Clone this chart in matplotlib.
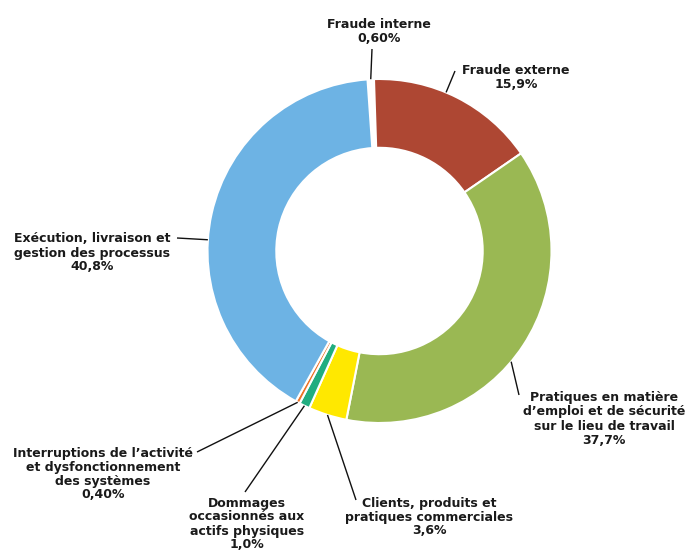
import numpy as np
import matplotlib
matplotlib.use("Agg")
import matplotlib.pyplot as plt

# data (clockwise from the top)
categories = [
    "Fraude interne",
    "Fraude externe",
    "Pratiques en matière\nd’emploi et de sécurité\nsur le lieu de travail",
    "Clients, produits et\npratiques commerciales",
    "Dommages\noccasionnés aux\nactifs physiques",
    "Interruptions de l’activité\net dysfonctionnement\ndes systèmes",
    "Exécution, livraison et\ngestion des processus",
]
values = [0.6, 15.9, 37.7, 3.6, 1.0, 0.4, 40.8]
value_labels = ["0,60%", "15,9%", "37,7%", "3,6%", "1,0%", "0,40%", "40,8%"]
colors = ["#FFFFFF", "#AE4733", "#9AB853", "#FFE800", "#21AD80", "#EE7326", "#6DB3E4"]

# layout (pixel coords, y from top)
W, H = 685, 550
center = (379.5, 251)
radius = 172
text_pos = [(379, 31), (516, 77), (604, 419), (429, 517), (247, 524), (103, 474), (92, 253)]
leader_start = [(372, 49), (455, 71), (519, 395), (356, 500), (245, 492), (197, 452), (177, 238)]
leader_frac = [0.5, 0.57, 0.45, 0.5, 0.5, 0.5, 0.56]

fig = plt.figure(figsize=(W / 100, H / 100), dpi=100)
ax = fig.add_axes([0, 0, 1, 1])

cx, cy = center[0], H - center[1]
wedges, _ = ax.pie(values, colors=colors, startangle=94, counterclock=False,
                   center=(cx, cy), radius=radius, frame=True,
                   wedgeprops=dict(width=radius * 0.4, edgecolor="white", linewidth=1.5))
ax.set_xlim(0, W)
ax.set_ylim(0, H)
ax.set_aspect("equal")
ax.axis("off")

for i, w in enumerate(wedges):
    ang = np.deg2rad(w.theta1 + leader_frac[i] * (w.theta2 - w.theta1))
    ex = cx + radius * np.cos(ang)
    ey = cy + radius * np.sin(ang)
    sx, sy = leader_start[i]
    ax.plot([sx, ex], [H - sy, ey], color="#111111", lw=1.0, solid_capstyle="butt")
    tx, ty = text_pos[i]
    ax.text(tx, H - ty, categories[i] + "\n" + value_labels[i], ha="center", va="center",
            multialignment="center", fontsize=9, fontweight="bold", color="#1a1a1a",
            linespacing=1.1, family="DejaVu Sans")

fig.savefig("out.png", dpi=100, facecolor="white")
